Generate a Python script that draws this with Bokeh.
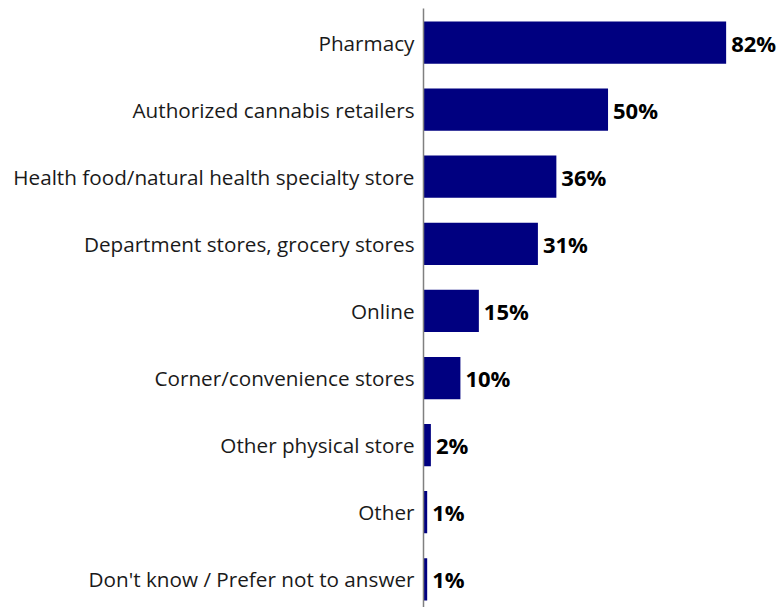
from bokeh.plotting import figure
from bokeh.models import Range1d, ColumnDataSource, LinearAxis, FixedTicker
from bokeh.core.properties import value
from bokeh.embed import file_html
from bokeh.resources import INLINE

categories = ["Pharmacy", "Authorized cannabis retailers",
              "Health food/natural health specialty store",
              "Department stores, grocery stores", "Online",
              "Corner/convenience stores", "Other physical store", "Other",
              "Don't know / Prefer not to answer"]
values = [82, 50, 36, 31, 15, 10, 2, 1, 1]
labels = [f"{v}%" for v in values]

pos = list(range(len(categories)))
src = ColumnDataSource(dict(y=pos, v=values, lab=labels))

p = figure(width=781, height=607, output_backend="svg", toolbar_location=None,
           x_range=Range1d(0, 97), y_range=Range1d(8.42, -0.507),
           min_border_left=423, min_border_top=8, min_border_bottom=0,
           min_border_right=0, y_axis_location=None, x_axis_location=None)
p.outline_line_color = None
p.grid.visible = False

p.hbar(y="y", right="v", left=0, height=0.63, source=src,
       fill_color="#000080", line_color=None)
p.text(x="v", y="y", text="lab", source=src, x_offset=5, y_offset=0,
       text_baseline="middle", text_align="left",
       text_font=value("Open Sans"), text_font_style="bold",
       text_font_size="22px", text_color="black")

ax = LinearAxis(ticker=FixedTicker(ticks=pos),
                major_label_overrides={i: c for i, c in enumerate(categories)})
ax.axis_line_color = "#808080"
ax.axis_line_width = 1.5
ax.major_tick_line_color = None
ax.minor_tick_line_color = None
ax.major_tick_out = 0
ax.major_tick_in = 0
ax.major_label_standoff = 9
ax.major_label_text_font = "Open Sans"
ax.major_label_text_font_size = "20.7px"
ax.major_label_text_color = "#1a1a1a"
p.add_layout(ax, "left")

open("out.html", "w").write(file_html(p, INLINE))
